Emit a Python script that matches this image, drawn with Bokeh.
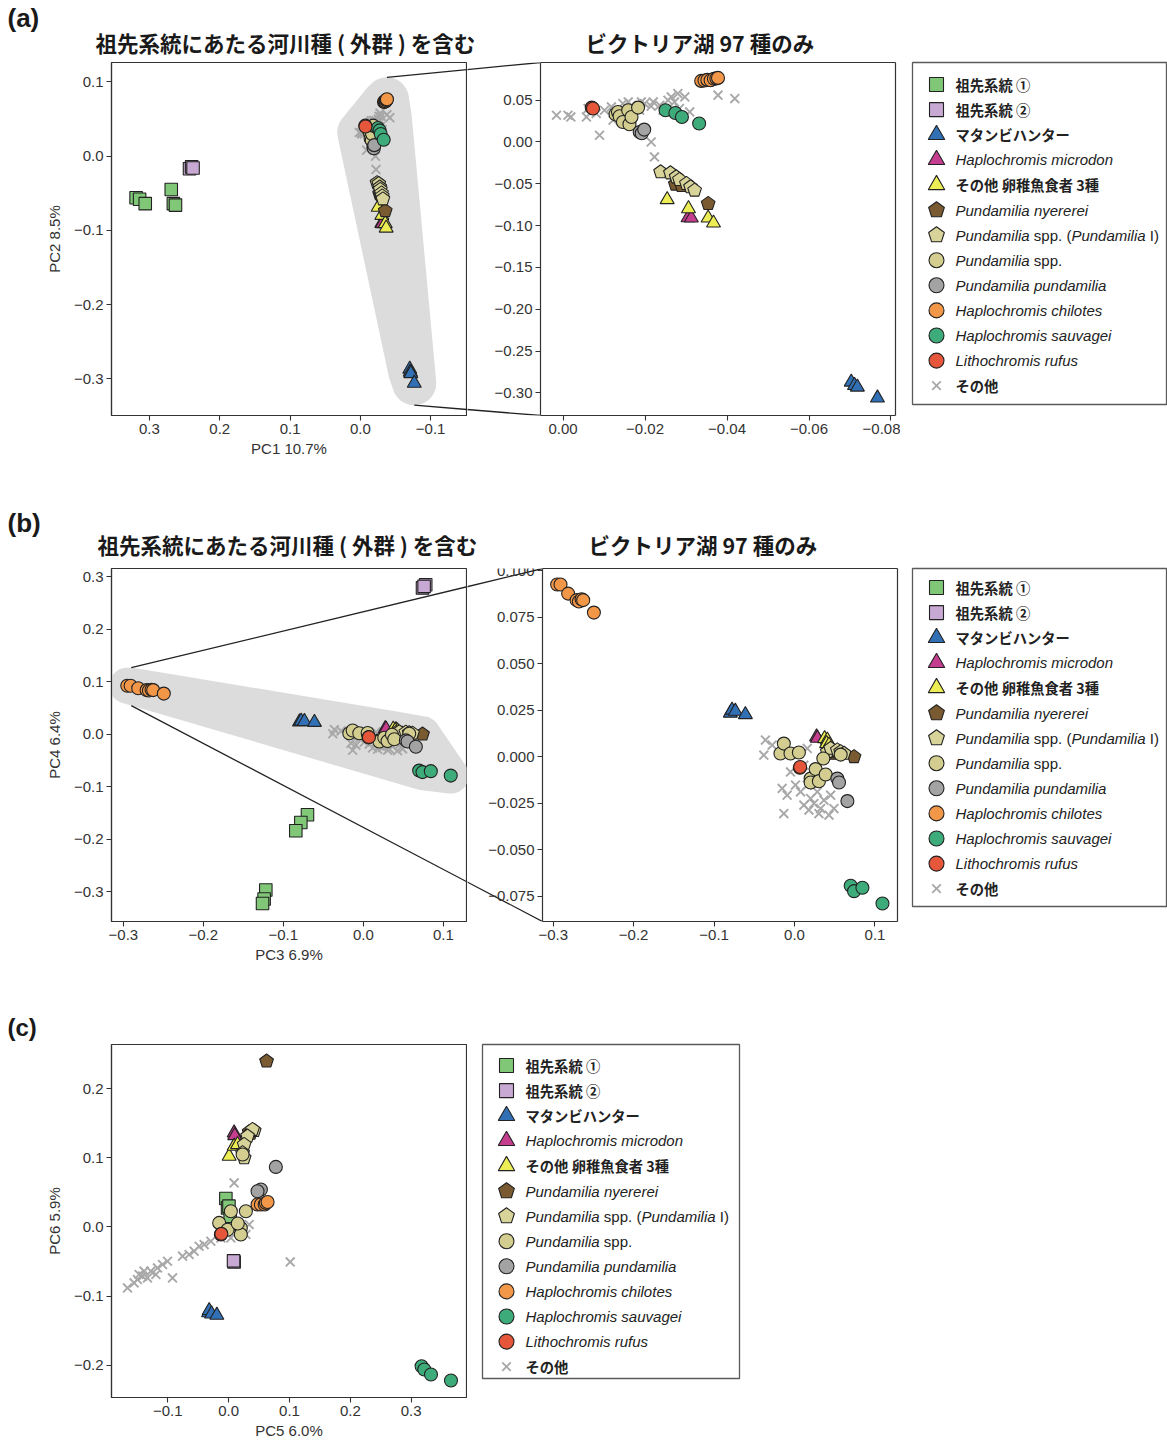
import numpy as np
from bokeh.core.properties import value
from bokeh.embed import file_html
from bokeh.layouts import column, row
from bokeh.models import (ColumnDataSource, CustomJSTickFormatter, FixedTicker,
                          LinearAxis, Range1d)
from bokeh.plotting import figure
from bokeh.resources import INLINE

# ---------------------------------------------------------------------------
# PCA scores, one list of (x, y) per group
# (a) PC1 vs PC2
A_ANC1 = [(0.319, -0.056), (0.314, -0.058), (0.306, -0.064), (0.269, -0.045),
          (0.266, -0.064), (0.263, -0.066)]
A_ANC2 = [(0.243, -0.017), (0.240, -0.0144), (0.238, -0.016)]
A_MATAMBI = [(-0.0703, -0.287), (-0.0711, -0.291), (-0.0718, -0.293), (-0.0767, -0.306)]
A_MICRODON = [(-0.0305, -0.0905), (-0.0313, -0.0909)]
A_EGG3 = [(-0.0254, -0.0689), (-0.0306, -0.0797), (-0.0354, -0.0909), (-0.0367, -0.0969)]
A_NYERERE = [(-0.0274, -0.0506), (-0.0289, -0.0522), (-0.0354, -0.0737)]
A_PUND_I = [(-0.0238, -0.0359), (-0.0262, -0.0371), (-0.0276, -0.0419), (-0.0284, -0.0450),
            (-0.0301, -0.0498), (-0.0311, -0.0538), (-0.0321, -0.0578)]
A_PUND_SPP = [(-0.0128, 0.0331), (-0.0134, 0.0359), (-0.0138, 0.0307), (-0.0146, 0.0239),
              (-0.0159, 0.0379), (-0.0162, 0.0212), (-0.0167, 0.0299), (-0.0183, 0.0411)]
A_PUNDAMILIA = [(-0.0187, 0.0120), (-0.0192, 0.0105), (-0.0198, 0.0148)]
A_CHILOTES = [(-0.0337, 0.0730), (-0.0345, 0.0735), (-0.0352, 0.0742), (-0.0360, 0.0738),
              (-0.0368, 0.0755), (-0.0374, 0.0760), (-0.0378, 0.0766)]
A_SAUVAGEI = [(-0.0250, 0.0379), (-0.0274, 0.0347), (-0.0290, 0.0299), (-0.0332, 0.0220)]
A_RUFUS = [(-0.0070, 0.0411), (-0.0073, 0.0400)]
A_OTHER = [(0.0016, 0.0319), (-0.0012, 0.0319), (-0.0019, 0.0299), (-0.0057, 0.0299),
           (-0.0061, 0.0400), (-0.0081, 0.0340), (-0.0089, 0.0080), (-0.0101, 0.0379),
           (-0.0118, 0.0419), (-0.0122, 0.0260), (-0.0126, 0.0340), (-0.0146, 0.0459),
           (-0.0159, 0.0479), (-0.0167, 0.0439), (-0.0187, 0.0379), (-0.0191, 0.0479),
           (-0.0199, 0.0459), (-0.0215, 0.0427), (-0.0220, 0.0479), (-0.0236, 0.0439),
           (-0.0244, 0.0379), (-0.0256, 0.0499), (-0.0264, 0.0538), (-0.0272, 0.0479),
           (-0.0280, 0.0579), (-0.0284, 0.0400), (-0.0297, 0.0538), (-0.0309, 0.0359),
           (-0.0215, 0.0000), (-0.0223, -0.0179), (-0.0378, 0.0559), (-0.0419, 0.0519)]

# (b) PC3 vs PC4
B_ANC1 = [(-0.0698, -0.1535), (-0.0781, -0.1682), (-0.0844, -0.1840), (-0.1219, -0.2970),
          (-0.1240, -0.3142), (-0.1260, -0.3226)]
B_ANC2 = [(0.074, 0.279), (0.078, 0.285), (0.076, 0.282)]
B_MATAMBI = [(-0.0798, 0.0235), (-0.0777, 0.0251), (-0.0736, 0.0245), (-0.0611, 0.0227)]
B_MICRODON = [(0.0274, 0.0107), (0.0285, 0.0100)]
B_EGG3 = [(0.0374, 0.0098), (0.0408, 0.0090), (0.0399, 0.0071), (0.0428, 0.0063)]
B_NYERERE = [(0.0490, 0.0018), (0.0532, 0.0027), (0.0740, 0.0000)]
B_PUND_I = [(0.0408, 0.0027), (0.0449, 0.0045), (0.0532, 0.0036), (0.0574, 0.0027),
            (0.0615, 0.0018)]
B_PUND_SPP = [(-0.0175, 0.0018), (-0.0133, 0.0071), (-0.0050, 0.0018), (0.0054, 0.0023),
              (0.0200, -0.0117), (0.0200, -0.0138), (0.0262, -0.0066), (0.0303, -0.0131),
              (0.0358, -0.0009), (0.0387, -0.0095), (0.0574, 0.0012)]
B_PUNDAMILIA = [(0.0532, -0.0117), (0.0553, -0.0138), (0.0657, -0.0238)]
B_CHILOTES = [(-0.2951, 0.0926), (-0.2909, 0.0926), (-0.2814, 0.0877), (-0.2709, 0.0842),
              (-0.2680, 0.0835), (-0.2647, 0.0847), (-0.2627, 0.0842), (-0.2494, 0.0775)]
B_SAUVAGEI = [(0.0698, -0.0693), (0.0740, -0.0722), (0.0844, -0.0704), (0.1093, -0.0788)]
B_RUFUS = [(0.0066, -0.0059), (0.0070, -0.0055)]
B_OTHER = [(-0.0362, 0.0090), (-0.0382, 0.0009), (-0.0278, 0.0063), (-0.0154, -0.0170),
           (-0.0092, -0.0206), (-0.0133, -0.0305), (0.0075, -0.0188), (0.0158, -0.0152),
           (0.0200, -0.0224), (0.0241, -0.0251), (0.0324, -0.0278), (0.0428, -0.0313),
           (0.0490, -0.0278), (0.0116, -0.0260), (0.0283, -0.0188), (0.0241, -0.0125),
           (0.0116, -0.0045), (0.0158, 0.0045), (-0.0050, -0.0081), (0.0366, -0.0233),
           (0.0303, -0.0305), (0.0012, -0.0152), (0.0179, -0.0286), (0.0449, -0.0206)]

# (c) PC5 vs PC6
C_ANC1 = [(-0.0046, 0.0410), (-0.0018, 0.0275), (0.0025, 0.0155), (0.0005, 0.0300)]
C_ANC2 = [(0.0090, -0.0506), (0.0080, -0.0490)]
C_MATAMBI = [(-0.0330, -0.1240), (-0.0320, -0.1208), (-0.0281, -0.1257), (-0.0194, -0.1276)]
C_MICRODON = [(0.0090, 0.1358), (0.0100, 0.1320)]
C_EGG3 = [(0.0008, 0.1022), (0.0090, 0.1166), (0.0146, 0.1190)]
C_NYERERE = [(0.0623, 0.2394), (0.0337, 0.1373), (0.0360, 0.1350)]
C_PUND_I = [(0.0420, 0.1390), (0.0393, 0.1407), (0.0311, 0.1310), (0.0255, 0.1190),
            (0.0229, 0.1070), (0.0255, 0.0997)]
C_PUND_SPP = [(0.0229, 0.1046), (0.0283, 0.0227), (0.0036, 0.0227), (0.0200, -0.0014),
              (0.0200, -0.0110), (-0.0156, 0.0058), (-0.0018, -0.0040), (0.0150, 0.0050)]
C_PUNDAMILIA = [(0.0776, 0.0867), (0.0530, 0.0540), (0.0475, 0.0516)]
C_CHILOTES = [(0.0475, 0.0324), (0.0530, 0.0324), (0.0592, 0.0324), (0.0612, 0.0347),
              (0.0640, 0.0361)]
C_SAUVAGEI = [(0.3172, -0.2013), (0.3216, -0.2061), (0.3326, -0.2133), (0.3655, -0.2220)]
C_RUFUS = [(-0.0128, -0.0110), (-0.0120, -0.0100)]
C_OTHER = [(-0.1663, -0.0881), (-0.1554, -0.0809), (-0.1500, -0.0760), (-0.1472, -0.0688),
           (-0.1416, -0.0712), (-0.1390, -0.0640), (-0.1334, -0.0737), (-0.1280, -0.0640),
           (-0.1197, -0.0688), (-0.1170, -0.0592), (-0.1087, -0.0543), (-0.1005, -0.0496),
           (-0.0923, -0.0737), (-0.0758, -0.0423), (-0.0650, -0.0399), (-0.0567, -0.0351),
           (-0.0485, -0.0279), (-0.0403, -0.0255), (-0.0293, -0.0207), (-0.0128, -0.0159),
           (0.0036, -0.0159), (0.0283, -0.0110), (0.0337, 0.0035), (0.0090, 0.0636),
           (0.1012, -0.0506)]

# tick positions
A1_XTICKS = [0.3, 0.2, 0.1, 0.0, -0.1]
A1_YTICKS = [0.1, 0.0, -0.1, -0.2, -0.3]
A2_XTICKS = [0.0, -0.02, -0.04, -0.06, -0.08]
A2_YTICKS = [0.05, 0.0, -0.05, -0.10, -0.15, -0.20, -0.25, -0.30]
B_XTICKS = [-0.3, -0.2, -0.1, 0.0, 0.1]
B1_YTICKS = [0.3, 0.2, 0.1, 0.0, -0.1, -0.2, -0.3]
B2_YTICKS = [0.1, 0.075, 0.05, 0.025, 0.0, -0.025, -0.05, -0.075]
C_XTICKS = [-0.1, 0.0, 0.1, 0.2, 0.3]
C_YTICKS = [0.2, 0.1, 0.0, -0.1, -0.2]

TITLE_ALL = "祖先系統にあたる河川種 ( 外群 ) を含む"
TITLE_LAKE = "ビクトリア湖 97 種のみ"

# groups: key, marker, colour, legend text runs
KEYS = ["anc1", "anc2", "matambi", "microdon", "egg3", "nyererei", "pund_i",
        "pund_spp", "pundamilia", "chilotes", "sauvagei", "rufus", "other"]
MARKERS = ["square", "square", "triangle", "triangle", "triangle", "pentagon", "pentagon",
           "circle", "circle", "circle", "circle", "circle", "x"]
COLORS = ["#80c777", "#c8a9d3", "#3270b6", "#c43d8e", "#eded55", "#7a5a30", "#d8d398",
          "#d3ce8f", "#a3a3a3", "#f29648", "#3dab7a", "#e5563a", "#a8a8a8"]
LABEL_RUNS = [
    [("祖先系統 ①", "jp")],
    [("祖先系統 ②", "jp")],
    [("マタンビハンター", "jp")],
    [("Haplochromis microdon", "it")],
    [("その他 卵稚魚食者 3種", "jp")],
    [("Pundamilia nyererei", "it")],
    [("Pundamilia", "it"), (" spp. (", "rm"), ("Pundamilia", "it"), (" I)", "rm")],
    [("Pundamilia", "it"), (" spp.", "rm")],
    [("Pundamilia pundamilia", "it")],
    [("Haplochromis chilotes", "it")],
    [("Haplochromis sauvagei", "it")],
    [("Lithochromis rufus", "it")],
    [("その他", "jp")],
]

PANEL_A = dict(zip(KEYS, [A_ANC1, A_ANC2, A_MATAMBI, A_MICRODON, A_EGG3, A_NYERERE, A_PUND_I,
                          A_PUND_SPP, A_PUNDAMILIA, A_CHILOTES, A_SAUVAGEI, A_RUFUS, A_OTHER]))
PANEL_B = dict(zip(KEYS, [B_ANC1, B_ANC2, B_MATAMBI, B_MICRODON, B_EGG3, B_NYERERE, B_PUND_I,
                          B_PUND_SPP, B_PUNDAMILIA, B_CHILOTES, B_SAUVAGEI, B_RUFUS, B_OTHER]))
PANEL_C = dict(zip(KEYS, [C_ANC1, C_ANC2, C_MATAMBI, C_MICRODON, C_EGG3, C_NYERERE, C_PUND_I,
                          C_PUND_SPP, C_PUNDAMILIA, C_CHILOTES, C_SAUVAGEI, C_RUFUS, C_OTHER]))
LAKE_KEYS = KEYS[2:]

# ---------------------------------------------------------------------------
FONT = "Liberation Sans"
JP_FONT = "Noto Sans CJK JP"
INK = "#333333"
EDGE = "#222222"
PAGE_W = 1167
TITLE_SIZE = "21.5px"


class Geo:
    """Canvas placement on the page, borders, frame size and data ranges."""

    def __init__(self, ox, oy, l, fw, r, t, fh, b, xr=None, yr=None):
        self.ox, self.oy = ox, oy
        self.l, self.fw, self.r, self.t, self.fh, self.b = l, fw, r, t, fh, b
        self.xr = xr if xr is not None else (0, fw)
        self.yr = yr if yr is not None else (fh, 0)

    def page_to_data(self, px, py):
        x0, x1 = self.xr
        y0, y1 = self.yr
        x = x0 + (px - self.ox - self.l) / self.fw * (x1 - x0)
        y = y1 - (py - self.oy - self.t) / self.fh * (y1 - y0)
        return float(x), float(y)


def widened(vis_xr, lead, box_w):
    """x range of a frame that starts `lead` px left of the visible box."""
    x0, x1 = vis_xr
    return (x0 - lead / box_w * (x1 - x0), x1)


# bands above each row carrying the panel tag and titles
STRIP_A_H, STRIP_B_H, STRIP_C_H = 58, 56, 42
ROW_A, ROW_B, ROW_C = 58, 560, 1042

A2_VIS_X = (0.0055, -0.0811)
B2_VIS_X = (-0.3133, 0.128)
A2_LEAD, B2_LEAD = 73, 75

GEO_A1 = Geo(0, ROW_A, 111, 355, 1, 4, 353, 89, (0.354, -0.151), (-0.3495, 0.1262))
GEO_A2 = Geo(467, ROW_A, 0, A2_LEAD + 355, 5, 4, 353, 89,
             widened(A2_VIS_X, A2_LEAD, 355), (-0.327, 0.095))
GEO_A3 = Geo(900, ROW_A, 12, 254, 1, 4, 342, 100)
GEO_B1 = Geo(0, ROW_B, 111, 355, 1, 8, 353, 79, (-0.3148, 0.129), (-0.357, 0.316))
GEO_B2 = Geo(467, ROW_B, 0, B2_LEAD + 355, 3, 8, 353, 79,
             widened(B2_VIS_X, B2_LEAD, 355), (-0.0885, 0.1012))
GEO_B3 = Geo(900, ROW_B, 12, 254, 1, 7, 338, 95)
GEO_C1 = Geo(0, ROW_C, 111, 355, 1, 1, 353, 47, (-0.1926, 0.391), (-0.2465, 0.2636))
GEO_C2 = Geo(467, ROW_C, 15, 257, 5, 2, 334, 65)


def base_figure(geo, axes=True):
    kw = dict(frame_width=geo.fw, frame_height=geo.fh,
              x_range=Range1d(*geo.xr), y_range=Range1d(*geo.yr),
              min_border_left=geo.l, min_border_right=geo.r,
              min_border_top=geo.t, min_border_bottom=geo.b,
              output_backend="svg", toolbar_location=None, tools="",
              background_fill_color="white", border_fill_color="white")
    if not axes:
        kw.update(x_axis_type=None, y_axis_type=None)
    p = figure(**kw)
    p.outline_line_color = INK
    p.outline_line_width = 1.2
    if axes:
        p.grid.visible = False
    return p


def tick_formatter(decimals):
    return CustomJSTickFormatter(
        code=f"return tick.toFixed({decimals}).replace('-', '\\u2212');")


def style_axes(p, xticks, xdec, yticks, ydec, xlabel=None, ylabel=None):
    p.xaxis.ticker = FixedTicker(ticks=xticks)
    p.yaxis.ticker = FixedTicker(ticks=yticks)
    p.xaxis.formatter = tick_formatter(xdec)
    p.yaxis.formatter = tick_formatter(ydec)
    for ax in list(p.xaxis) + list(p.yaxis):
        ax.major_label_text_font = FONT
        ax.major_label_text_font_size = "15px"
        ax.major_label_text_color = INK
        ax.major_label_standoff = 3
        ax.major_tick_out = 5
        ax.major_tick_in = 0
        ax.minor_tick_out = 0
        ax.minor_tick_in = 0
        ax.axis_line_color = INK
        ax.axis_line_width = 1.2
        ax.major_tick_line_color = INK
        ax.major_tick_line_width = 1.1
        ax.axis_label_text_font = FONT
        ax.axis_label_text_font_size = "15px"
        ax.axis_label_text_font_style = "normal"
        ax.axis_label_text_color = INK
    p.xaxis.axis_label = xlabel
    p.yaxis.axis_label = ylabel
    p.xaxis.axis_label_standoff = 3
    p.yaxis.axis_label_standoff = 8


def inset_box(p, vis_xr):
    """Zoomed panel: frame extends left of the drawn box, so the y axis sits
    at the box edge and the box is closed by bare axes above and right."""
    lo, hi = min(vis_xr), max(vis_xr)
    p.outline_line_color = None
    p.yaxis.fixed_location = vis_xr[0]
    p.xaxis.bounds = (lo, hi)
    for place in ("above", "right"):
        ax = LinearAxis(ticker=FixedTicker(ticks=[]), axis_line_color=INK,
                        axis_line_width=1.2, major_tick_out=0, major_tick_in=0,
                        minor_tick_out=0, minor_tick_in=0, major_label_standoff=0,
                        axis_label_standoff=0)
        if place == "above":
            ax.bounds = (lo, hi)
        p.add_layout(ax, place)


def pentagon_patches(xs, ys, geo, radius):
    x0, x1 = geo.xr
    y0, y1 = geo.yr
    ang = np.deg2rad(90 + 72 * np.arange(5))
    dx = radius * np.cos(ang) * (x1 - x0) / geo.fw
    dy = radius * np.sin(ang) * (y1 - y0) / geo.fh
    return [list(x + dx) for x in xs], [list(y + dy) for y in ys]


def draw_marks(p, geo, key, pts):
    i = KEYS.index(key)
    marker, color = MARKERS[i], COLORS[i]
    arr = np.array(pts, dtype=float)
    xs, ys = arr[:, 0], arr[:, 1]
    if marker == "pentagon":
        pxs, pys = pentagon_patches(xs, ys, geo, 7.2)
        p.patches(pxs, pys, fill_color=color, line_color=EDGE, line_width=1.1)
    elif marker == "x":
        p.scatter(xs, ys, marker="x", size=12.5, line_color=color, line_width=1.9)
    else:
        size = {"circle": 13, "square": 12.5, "triangle": 14}[marker]
        p.scatter(xs, ys, marker=marker, size=size, fill_color=color,
                  line_color=EDGE, line_width=1.1)


def draw_panel(p, geo, panel, keys):
    for key in ["other"] + [k for k in keys if k != "other"]:
        draw_marks(p, geo, key, panel[key])


def convex_hull(points):
    pts = sorted(set(points))

    def cross(o, a, b):
        return (a[0] - o[0]) * (b[1] - o[1]) - (a[1] - o[1]) * (b[0] - o[0])

    lower, upper = [], []
    for q in pts:
        while len(lower) >= 2 and cross(lower[-2], lower[-1], q) <= 0:
            lower.pop()
        lower.append(q)
    for q in reversed(pts):
        while len(upper) >= 2 and cross(upper[-2], upper[-1], q) <= 0:
            upper.pop()
        upper.append(q)
    return lower[:-1] + upper[:-1]


def lake_region(geo, panel, radius, mode):
    """Rounded hull around the lake samples (frame pixels) and the two
    points on it where the zoom connectors start (page pixels)."""
    x0, x1 = geo.xr
    y0, y1 = geo.yr
    arr = np.array([pt for k in LAKE_KEYS for pt in panel[k]], dtype=float)
    px = (arr[:, 0] - x0) / (x1 - x0) * geo.fw
    py = (arr[:, 1] - y0) / (y1 - y0) * geo.fh
    ang = np.linspace(0, 2 * np.pi, 48, endpoint=False)
    cx = (px[:, None] + radius * np.cos(ang)[None, :]).ravel()
    cy = (py[:, None] + radius * np.sin(ang)[None, :]).ravel()
    hull = np.array(convex_hull([(round(a, 3), round(b, 3)) for a, b in zip(cx, cy)]))
    if mode == "ends":
        anchors = [hull[np.argmax(hull[:, 1])], hull[np.argmin(hull[:, 1])]]
    else:
        c = hull[:, 0].min() + 22
        hits = []
        n = len(hull)
        for i in range(n):
            (ax, ay), (bx, by) = hull[i], hull[(i + 1) % n]
            if (ax - c) * (bx - c) <= 0 and ax != bx:
                hits.append(ay + (c - ax) / (bx - ax) * (by - ay))
        anchors = [(c, max(hits)), (c, min(hits))]
    bx = x0 + hull[:, 0] / geo.fw * (x1 - x0)
    by = y0 + hull[:, 1] / geo.fh * (y1 - y0)
    pages = [(geo.ox + geo.l + a[0], geo.oy + geo.t + geo.fh - a[1]) for a in anchors]
    return list(bx), list(by), pages


def add_connectors(p_left, g_left, p_right, g_right, box_left_page, anchor_pages):
    corners = [(box_left_page, g_right.oy + g_right.t),
               (box_left_page, g_right.oy + g_right.t + g_right.fh)]
    for p, g in ((p_left, g_left), (p_right, g_right)):
        seg = [g.page_to_data(*ap) + g.page_to_data(*cp)
               for ap, cp in zip(anchor_pages, corners)]
        p.segment(x0=[s[0] for s in seg], y0=[s[1] for s in seg],
                  x1=[s[2] for s in seg], y1=[s[3] for s in seg],
                  line_color=EDGE, line_width=1.3)


def strip_figure(height, items):
    """Full-width band carrying the panel tag and the panel titles."""
    p = figure(frame_width=PAGE_W, frame_height=height,
               x_range=Range1d(0, PAGE_W), y_range=Range1d(height, 0),
               x_axis_type=None, y_axis_type=None,
               min_border_left=0, min_border_right=0, min_border_top=0, min_border_bottom=0,
               output_backend="svg", toolbar_location=None, tools="",
               background_fill_color="white", border_fill_color="white")
    p.outline_line_color = None
    for x, y, text, font, size in items:
        p.text(x=[x], y=[y], text=[text], text_font=value(font), text_font_style="bold",
               text_font_size=value(size), text_baseline="middle", text_align="left",
               text_color="#1a1a1a")
    return p


HELV = {"P": 667, "u": 556, "n": 556, "d": 556, "a": 556, "m": 833, "i": 222, "l": 222,
        " ": 278, "s": 500, "p": 556, ".": 278, "(": 333, ")": 333, "I": 278}


def legend_figure(geo, first, step):
    p = base_figure(geo, axes=False)
    p.outline_line_color = "#5a5a5a"
    p.outline_line_width = 1.3
    mx, tx = 24, 43
    lat_size = 15
    runs = {"jp": ([], [], []), "it": ([], [], []), "rm": ([], [], [])}
    for i, key in enumerate(KEYS):
        y = first + step * i
        marker, color = MARKERS[i], COLORS[i]
        if marker == "pentagon":
            pxs, pys = pentagon_patches([mx], [y], geo, 8.3)
            p.patches(pxs, pys, fill_color=color, line_color=EDGE, line_width=1.1)
        elif marker == "x":
            p.scatter([mx], [y], marker="x", size=12, line_color=color, line_width=1.8)
        else:
            size = {"circle": 15, "square": 14, "triangle": 16.5}[marker]
            p.scatter([mx], [y], marker=marker, size=size, fill_color=color,
                      line_color=EDGE, line_width=1.1)
        x = tx
        for text, sty in LABEL_RUNS[i]:
            lead = len(text) - len(text.lstrip(" "))
            trail = len(text) - len(text.rstrip(" "))
            body = text.strip(" ")
            x += lead * HELV[" "] * lat_size / 1000
            runs[sty][0].append(x)
            runs[sty][1].append(y)
            runs[sty][2].append(body)
            x += (sum(HELV.get(ch, 556) for ch in body) + trail * HELV[" "]) * lat_size / 1000
    specs = {"jp": (JP_FONT, "bold", "14.3px"), "it": (FONT, "italic", f"{lat_size}px"),
             "rm": (FONT, "normal", f"{lat_size}px")}
    for sty, (xs, ys, texts) in runs.items():
        font, style, size = specs[sty]
        src = ColumnDataSource(dict(x=xs, y=ys, text=texts))
        p.text(x="x", y="y", text="text", source=src, text_font=value(font),
               text_font_style=style, text_font_size=value(size),
               text_baseline="middle", text_align="left", text_color="#222222")
    return p


# ---------------------------------------------------------------------------
strip_a = strip_figure(STRIP_A_H, [(7, 17.5, "(a)", FONT, "26px"),
                                   (95, 42, TITLE_ALL, JP_FONT, TITLE_SIZE),
                                   (585, 42, TITLE_LAKE, JP_FONT, TITLE_SIZE)])
strip_b = strip_figure(STRIP_B_H, [(7, 18, "(b)", FONT, "26px"),
                                   (97, 40, TITLE_ALL, JP_FONT, TITLE_SIZE),
                                   (588, 40, TITLE_LAKE, JP_FONT, TITLE_SIZE)])
strip_c = strip_figure(STRIP_C_H, [(7, 27, "(c)", FONT, "24px")])

# (a)
pa1 = base_figure(GEO_A1)
style_axes(pa1, A1_XTICKS, 1, A1_YTICKS, 1, "PC1 10.7%", "PC2 8.5%")
bx, by, a_anchors = lake_region(GEO_A1, PANEL_A, 22, "ends")
pa1.patch(bx, by, fill_color="#dcdcdc", line_color=None)
draw_panel(pa1, GEO_A1, PANEL_A, KEYS)

pa2 = base_figure(GEO_A2)
style_axes(pa2, A2_XTICKS, 2, A2_YTICKS, 2)
inset_box(pa2, A2_VIS_X)
draw_panel(pa2, GEO_A2, PANEL_A, LAKE_KEYS)
add_connectors(pa1, GEO_A1, pa2, GEO_A2, GEO_A2.ox + A2_LEAD, a_anchors)

pa3 = legend_figure(GEO_A3, 22, 25.1)

# (b)
pb1 = base_figure(GEO_B1)
style_axes(pb1, B_XTICKS, 1, B1_YTICKS, 1, "PC3 6.9%", "PC4 6.4%")
bx, by, b_anchors = lake_region(GEO_B1, PANEL_B, 18, "left")
pb1.patch(bx, by, fill_color="#dcdcdc", line_color=None)
draw_panel(pb1, GEO_B1, PANEL_B, KEYS)

pb2 = base_figure(GEO_B2)
style_axes(pb2, B_XTICKS, 1, B2_YTICKS, 3)
inset_box(pb2, B2_VIS_X)
draw_panel(pb2, GEO_B2, PANEL_B, LAKE_KEYS)
add_connectors(pb1, GEO_B1, pb2, GEO_B2, GEO_B2.ox + B2_LEAD, b_anchors)

pb3 = legend_figure(GEO_B3, 19, 25.1)

# (c)
pc1 = base_figure(GEO_C1)
style_axes(pc1, C_XTICKS, 1, C_YTICKS, 1, "PC5 6.0%", "PC6 5.9%")
draw_panel(pc1, GEO_C1, PANEL_C, KEYS)

pc2 = legend_figure(GEO_C2, 21, 25.1)

layout = column(strip_a, row(pa1, pa2, pa3),
                strip_b, row(pb1, pb2, pb3),
                strip_c, row(pc1, pc2))

with open("out.html", "w") as f:
    f.write(file_html(layout, INLINE))
